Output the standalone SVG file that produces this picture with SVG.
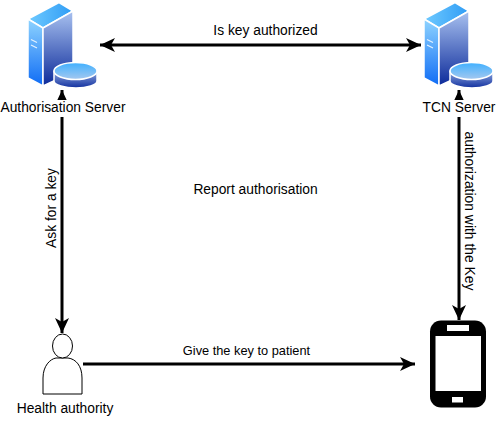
<svg xmlns="http://www.w3.org/2000/svg" xmlns:xlink="http://www.w3.org/1999/xlink" width="504" height="421" viewBox="0 0 504 421">
<style>
text{font-family:"Liberation Sans",Arial,sans-serif;font-size:13.800px;fill:#000}
.c{fill:none;stroke:#000;stroke-width:3}
.w{stroke:#fff;stroke-width:1.5;stroke-linejoin:round}
</style>
<defs>
<linearGradient id="f" x1="0" y1="0" x2="0" y2="1"><stop offset="0" stop-color="#8fd4ff"/><stop offset="1" stop-color="#0f6cf5"/></linearGradient>
<linearGradient id="s" x1="0" y1="0" x2="0" y2="1"><stop offset="0" stop-color="#a9c2f0"/><stop offset="1" stop-color="#0c2a9a"/></linearGradient>
<linearGradient id="t" x1="0" y1="0" x2="1" y2="0"><stop offset="0" stop-color="#6fcaff"/><stop offset="1" stop-color="#2f9cf5"/></linearGradient>
<linearGradient id="d" x1="0" y1="0" x2="0" y2="1"><stop offset="0" stop-color="#8fa9e0"/><stop offset="1" stop-color="#12309f"/></linearGradient>
<linearGradient id="e" x1="0" y1="0" x2="0" y2="1"><stop offset="0" stop-color="#3fb0ff"/><stop offset="1" stop-color="#a5c8ef"/></linearGradient>
<marker id="a" markerUnits="userSpaceOnUse" markerWidth="16" markerHeight="14" refX="15" refY="7" orient="auto-start-reverse"><path d="M0 0L15 7L0 14L4 7Z" fill="#000"/></marker>
<g id="srv">
<path class="w" fill="url(#t)" d="M28 19L59 2.500L73 11L43 28Z"/>
<path class="w" fill="url(#f)" d="M28 19L43 28V86L28 78Z"/>
<path class="w" fill="url(#s)" d="M43 28L73 11V72L43 86Z"/>
<path d="M31 39.500L37 42.500M31 45L37 48" stroke="#e4f2ff" stroke-width="1.200" fill="none"/>
<path class="w" fill="url(#d)" d="M54 71V81C54 85 65 88 76 88S97 85 97 81V71Z"/>
<ellipse class="w" fill="url(#e)" cx="75.500" cy="71" rx="21.500" ry="8.500"/>
</g>
</defs>
<g id="connectors">
<path class="c" marker-start="url(#a)" marker-end="url(#a)" d="M100 45H421"/>
<path class="c" marker-start="url(#a)" marker-end="url(#a)" d="M62 90V333"/>
<path class="c" marker-start="url(#a)" marker-end="url(#a)" d="M459 90V320"/>
<path class="c" marker-end="url(#a)" d="M83 364H415"/>
</g>
<g id="auth-server"><use xlink:href="#srv" href="#srv"/><rect x="0" y="100" width="126" height="17" fill="#fff"/><text x="63" y="112" text-anchor="middle">Authorisation Server</text></g>
<g id="tcn-server"><use xlink:href="#srv" href="#srv" x="396"/><rect x="422" y="100" width="74" height="17" fill="#fff"/><text x="459" y="112" text-anchor="middle">TCN Server</text></g>
<g id="health-authority">
<path d="M43 394V378C43 366 50 359 56 358H68C76 359 82 366 82 378V394Z" fill="#fff" stroke="#000" stroke-width="1"/>
<ellipse cx="62.500" cy="346" rx="10" ry="12" fill="#fff" stroke="#000" stroke-width="1"/>
<text x="65" y="413" text-anchor="middle">Health authority</text>
</g>
<g id="phone">
<rect x="430" y="320.500" width="56" height="87" rx="11" fill="#000"/>
<rect x="435.500" y="336" width="45.500" height="55" fill="#fff"/>
<rect x="447" y="325" width="22" height="6" fill="#fff"/>
<rect x="452" y="397" width="11" height="5.500" fill="#fff"/>
</g>
<g id="labels">
<text x="265.500" y="35" text-anchor="middle">Is key authorized</text>
<text x="255.500" y="194" text-anchor="middle">Report authorisation</text>
<text x="246.500" y="355" text-anchor="middle" style="font-size:12.800px">Give the key to patient</text>
<text transform="translate(55.500 208) rotate(-90)" text-anchor="middle">Ask for a key</text>
<text style="font-size:13.900px" transform="translate(465 211) rotate(90)" text-anchor="middle">authorization with the Key</text>
</g>
</svg>
